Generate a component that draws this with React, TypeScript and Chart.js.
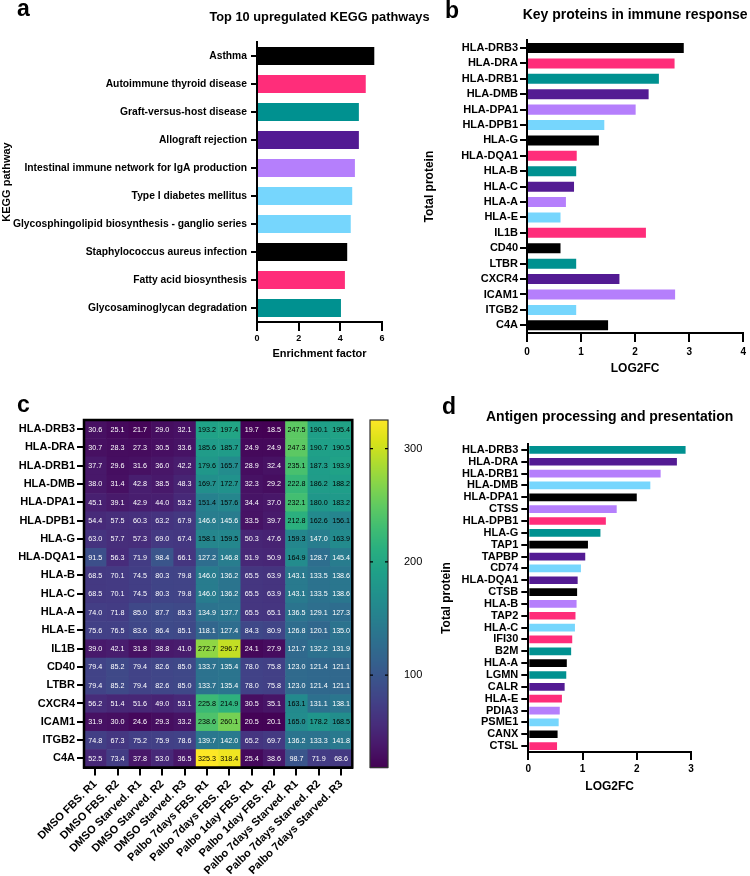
import React, { useEffect, useRef } from 'react';
import { Chart, registerables } from 'chart.js';

Chart.register(...registerables);

const FONT = "'Liberation Sans', Arial, Helvetica, sans-serif";
Chart.defaults.font.family = FONT;
Chart.defaults.color = '#000';

const BLACK = '#000000';
const PINK = '#ff2d7a';
const TEAL = '#009190';
const PURPLE = '#531b93';
const LAVENDER = '#b57ffc';
const SKY = '#76d6fd';

// ---- Panel a ----
const keggPathways = [
  'Asthma',
  'Autoimmune thyroid disease',
  'Graft-versus-host disease',
  'Allograft rejection',
  'Intestinal immune network for IgA production',
  'Type I diabetes mellitus',
  'Glycosphingolipid biosynthesis - ganglio series',
  'Staphylococcus aureus infection',
  'Fatty acid biosynthesis',
  'Glycosaminoglycan degradation',
];
const keggEnrichment = [5.63, 5.22, 4.89, 4.89, 4.7, 4.57, 4.5, 4.33, 4.22, 4.03];
const keggColors = [BLACK, PINK, TEAL, PURPLE, LAVENDER, SKY, SKY, BLACK, PINK, TEAL];

// ---- Panel b ----
const immuneProteins = [
  'HLA-DRB3', 'HLA-DRA', 'HLA-DRB1', 'HLA-DMB', 'HLA-DPA1', 'HLA-DPB1', 'HLA-G', 'HLA-DQA1',
  'HLA-B', 'HLA-C', 'HLA-A', 'HLA-E', 'IL1B', 'CD40', 'LTBR', 'CXCR4', 'ICAM1', 'ITGB2', 'C4A',
];
const immuneLog2fc = [2.9, 2.73, 2.44, 2.25, 2.01, 1.43, 1.33, 0.92, 0.91, 0.87, 0.72, 0.62, 2.2, 0.62, 0.91, 1.71, 2.74, 0.91, 1.5];
const immuneColors = [BLACK, PINK, TEAL, PURPLE, LAVENDER, SKY, BLACK, PINK, TEAL, PURPLE, LAVENDER, SKY, PINK, BLACK, TEAL, PURPLE, LAVENDER, SKY, BLACK];

// ---- Panel c ----
const heatmapRows = immuneProteins;
const heatmapConditions = [
  'DMSO FBS. R1', 'DMSO FBS. R2', 'DMSO Starved. R1', 'DMSO Starved. R2', 'DMSO Starved. R3',
  'Palbo 7days FBS. R1', 'Palbo 7days FBS. R2', 'Palbo 1day FBS. R1', 'Palbo 1day FBS. R2',
  'Palbo 7days Starved. R1', 'Palbo 7days Starved. R2', 'Palbo 7days Starved. R3',
];
const heatmapValues = [
  [30.6, 25.1, 21.7, 29.0, 32.1, 193.2, 197.4, 19.7, 18.5, 247.5, 190.1, 195.4],
  [30.7, 28.3, 27.3, 30.5, 33.6, 185.6, 185.7, 24.9, 24.9, 247.3, 190.7, 190.5],
  [37.7, 29.6, 31.6, 36.0, 42.2, 179.6, 165.7, 28.9, 32.4, 235.1, 187.3, 193.9],
  [38.0, 31.4, 42.8, 38.5, 48.3, 169.7, 172.7, 32.3, 29.2, 222.8, 186.2, 188.2],
  [45.1, 39.1, 42.9, 44.0, 53.2, 151.4, 157.6, 34.4, 37.0, 232.1, 180.0, 183.2],
  [54.4, 57.5, 60.3, 63.2, 67.9, 146.6, 145.6, 33.5, 39.7, 212.8, 162.6, 156.1],
  [63.0, 57.7, 57.3, 69.0, 67.4, 158.1, 159.5, 50.3, 47.6, 159.3, 147.0, 163.9],
  [91.5, 56.3, 71.9, 98.4, 66.1, 127.2, 146.8, 51.9, 50.9, 164.9, 128.7, 145.4],
  [68.5, 70.1, 74.5, 80.3, 79.8, 146.0, 136.2, 65.5, 63.9, 143.1, 133.5, 138.6],
  [68.5, 70.1, 74.5, 80.3, 79.8, 146.0, 136.2, 65.5, 63.9, 143.1, 133.5, 138.6],
  [74.0, 71.8, 85.0, 87.7, 85.3, 134.9, 137.7, 65.5, 65.1, 136.5, 129.1, 127.3],
  [75.6, 76.5, 83.6, 86.4, 85.1, 118.1, 127.4, 84.3, 80.9, 126.8, 120.1, 135.0],
  [39.0, 42.1, 31.8, 38.8, 41.0, 272.7, 296.7, 24.1, 27.9, 121.7, 132.2, 131.9],
  [79.4, 85.2, 79.4, 82.6, 85.0, 133.7, 135.4, 78.0, 75.8, 123.0, 121.4, 121.1],
  [79.4, 85.2, 79.4, 82.6, 85.0, 133.7, 135.4, 78.0, 75.8, 123.0, 121.4, 121.1],
  [56.2, 51.4, 51.6, 49.0, 53.1, 225.8, 214.9, 30.5, 35.1, 163.1, 131.1, 138.1],
  [31.9, 30.0, 24.6, 29.3, 33.2, 238.6, 260.1, 20.5, 20.1, 165.0, 178.2, 168.5],
  [74.8, 67.3, 75.2, 75.9, 78.6, 139.7, 142.0, 65.2, 69.7, 136.2, 133.3, 141.8],
  [52.5, 73.4, 37.8, 53.0, 36.5, 325.3, 318.4, 25.4, 38.6, 98.7, 71.9, 68.6],
];
const colorbarTicks = [100, 200, 300];

// ---- Panel d ----
const antigenProteins = [
  'HLA-DRB3', 'HLA-DRA', 'HLA-DRB1', 'HLA-DMB', 'HLA-DPA1', 'CTSS', 'HLA-DPB1', 'HLA-G', 'TAP1',
  'TAPBP', 'CD74', 'HLA-DQA1', 'CTSB', 'HLA-B', 'TAP2', 'HLA-C', 'IFI30', 'B2M', 'HLA-A', 'LGMN',
  'CALR', 'HLA-E', 'PDIA3', 'PSME1', 'CANX', 'CTSL',
];
const antigenLog2fc = [2.9, 2.74, 2.44, 2.25, 2.0, 1.63, 1.43, 1.33, 1.1, 1.05, 0.97, 0.91, 0.9, 0.89, 0.87, 0.86, 0.81, 0.79, 0.71, 0.7, 0.67, 0.62, 0.58, 0.56, 0.54, 0.53];
const antigenColors = [TEAL, PURPLE, LAVENDER, SKY, BLACK, LAVENDER, PINK, TEAL, BLACK, PURPLE, SKY, PURPLE, BLACK, LAVENDER, PINK, SKY, PINK, TEAL, BLACK, TEAL, PURPLE, PINK, LAVENDER, SKY, BLACK, PINK];

const allHeat = heatmapValues.flat();
const HEAT_MIN = Math.min(...allHeat);
const HEAT_MAX = Math.max(...allHeat);

const VIRIDIS = [
  '#440154', '#48186a', '#472d7b', '#424086', '#3b528b', '#33638d', '#2c728e', '#26828e', '#21918c',
  '#1fa088', '#28ae80', '#3fbc73', '#5ec962', '#84d44b', '#addc30', '#d8e219', '#fde725',
];
function hexToRgb(h: string) {
  return [parseInt(h.slice(1, 3), 16), parseInt(h.slice(3, 5), 16), parseInt(h.slice(5, 7), 16)];
}
const VIRIDIS_RGB = VIRIDIS.map(hexToRgb);
function viridis(t: number) {
  const tt = Math.max(0, Math.min(1, t)) * (VIRIDIS_RGB.length - 1);
  const i = Math.min(Math.floor(tt), VIRIDIS_RGB.length - 2);
  const f = tt - i;
  const a = VIRIDIS_RGB[i];
  const b = VIRIDIS_RGB[i + 1];
  const c = a.map((v, k) => Math.round(v + (b[k] - v) * f));
  return `rgb(${c[0]},${c[1]},${c[2]})`;
}

function axisBase(tickLen: number, pad: number, size: number, weight: any = 'bold') {
  return {
    grid: {
      display: true,
      drawOnChartArea: false,
      drawTicks: true,
      tickLength: tickLen,
      tickWidth: 2,
      tickColor: '#000',
      color: '#000',
      lineWidth: 2,
      offset: false,
    },
    border: { display: true, color: '#000', width: 2 },
    ticks: { color: '#000', padding: pad, font: { family: FONT, size, weight }, autoSkip: false },
  };
}

// Panel title drawn centred over the plot area (not squeezed to its width)
const panelTitlePlugin = {
  id: 'panelTitle',
  afterDraw(chart: any, _args: any, opts: any) {
    if (!opts || !opts.text) return;
    const { ctx, chartArea } = chart;
    ctx.save();
    ctx.font = `bold ${opts.size}px ${FONT}`;
    ctx.fillStyle = '#000';
    ctx.textAlign = 'center';
    ctx.textBaseline = 'middle';
    ctx.fillText(opts.text, (chartArea.left + chartArea.right) / 2, opts.y);
    ctx.restore();
  },
};

function barConfig(p: any) {
  const xb = axisBase(p.xTickLen, p.xPad, p.xTickSize);
  const yb = axisBase(p.yTickLen, p.yPad, p.yTickSize);
  return {
    type: 'bar',
    data: {
      labels: p.labels,
      datasets: [
        {
          data: p.data,
          backgroundColor: p.colors,
          borderWidth: 0,
          barPercentage: 0.65,
          categoryPercentage: 1,
        },
      ],
    },
    options: {
      indexAxis: 'y',
      animation: false,
      responsive: false,
      devicePixelRatio: 1,
      events: [],
      layout: { padding: { left: 0, right: p.padRight, top: p.areaTop, bottom: 0 } },
      plugins: {
        legend: { display: false },
        tooltip: { enabled: false },
        title: { display: false },
        panelTitle: { text: p.title, size: p.titleSize, y: p.titleY },
      },
      scales: {
        x: {
          type: 'linear',
          min: 0,
          max: p.xMax,
          ...xb,
          ticks: { ...xb.ticks, stepSize: p.xStep },
          title: {
            display: true,
            text: p.xTitle,
            color: '#000',
            font: { family: FONT, size: p.xTitleSize, weight: 'bold', lineHeight: 1.2 },
            padding: { top: 0, bottom: p.xTitlePadBottom },
          },
          afterFit: (s: any) => {
            s.height = p.xHeight;
          },
        },
        y: {
          type: 'category',
          ...yb,
          title: {
            display: true,
            text: p.yTitle,
            color: '#000',
            font: { family: FONT, size: p.yTitleSize, weight: 'bold', lineHeight: 1.2 },
            padding: { top: p.yTitlePadTop, bottom: 0 },
          },
          afterFit: (s: any) => {
            s.width = p.yWidth;
          },
        },
      },
    },
    plugins: [panelTitlePlugin],
  };
}

const heatmapPlugin = {
  id: 'heatmapCells',
  beforeDatasetsDraw(chart: any) {
    const { ctx, chartArea } = chart;
    const x = chart.scales.x;
    const y = chart.scales.y;
    const cw = Math.abs(x.getPixelForValue(1) - x.getPixelForValue(0));
    const ch = Math.abs(y.getPixelForValue(1) - y.getPixelForValue(0));
    ctx.save();
    heatmapValues.forEach((row, r) => {
      row.forEach((v, c) => {
        const cx = x.getPixelForValue(c);
        const cy = y.getPixelForValue(r);
        ctx.fillStyle = viridis((v - HEAT_MIN) / (HEAT_MAX - HEAT_MIN));
        ctx.fillRect(cx - cw / 2, cy - ch / 2, cw + 0.6, ch + 0.6);
      });
    });
    ctx.font = `7.2px ${FONT}`;
    ctx.textAlign = 'center';
    ctx.textBaseline = 'middle';
    heatmapValues.forEach((row, r) => {
      row.forEach((v, c) => {
        const cx = x.getPixelForValue(c);
        const cy = y.getPixelForValue(r);
        ctx.fillStyle = v > 150 ? '#000' : '#fff';
        ctx.fillText(v.toFixed(1), cx, cy + 0.5);
      });
    });
    ctx.strokeStyle = '#000';
    ctx.lineWidth = 2.5;
    ctx.strokeRect(chartArea.left, chartArea.top, chartArea.right - chartArea.left, chartArea.bottom - chartArea.top);
    ctx.restore();
  },
};

const colorbarPlugin = {
  id: 'colorbar',
  beforeDatasetsDraw(chart: any) {
    const { ctx, chartArea } = chart;
    const y = chart.scales.y;
    ctx.save();
    for (let py = Math.floor(chartArea.top); py < chartArea.bottom; py++) {
      const v = y.getValueForPixel(py + 0.5);
      ctx.fillStyle = viridis((v - HEAT_MIN) / (HEAT_MAX - HEAT_MIN));
      ctx.fillRect(chartArea.left, py, chartArea.right - chartArea.left, 1.2);
    }
    ctx.strokeStyle = '#333';
    ctx.lineWidth = 1.2;
    ctx.strokeRect(chartArea.left, chartArea.top, chartArea.right - chartArea.left, chartArea.bottom - chartArea.top);
    ctx.strokeStyle = '#000';
    ctx.lineWidth = 1.2;
    colorbarTicks.forEach((t) => {
      const py = y.getPixelForValue(t);
      ctx.beginPath();
      ctx.moveTo(chartArea.left, py);
      ctx.lineTo(chartArea.left + 3, py);
      ctx.moveTo(chartArea.right - 3, py);
      ctx.lineTo(chartArea.right, py);
      ctx.stroke();
    });
    ctx.restore();
  },
};

function heatmapConfig() {
  const xb = axisBase(8, 2, 11);
  const yb = axisBase(7, 2, 11);
  return {
    type: 'scatter',
    data: { datasets: [] },
    options: {
      animation: false,
      responsive: false,
      devicePixelRatio: 1,
      events: [],
      layout: { padding: { left: 0, right: 12.7, top: 40, bottom: 0 } },
      plugins: { legend: { display: false }, tooltip: { enabled: false } },
      scales: {
        x: {
          type: 'category',
          labels: heatmapConditions,
          offset: true,
          position: 'bottom',
          ...xb,
          ticks: { ...xb.ticks, maxRotation: 45, minRotation: 45 },
          afterFit: (s: any) => {
            s.height = 108.5;
          },
        },
        y: {
          type: 'category',
          labels: heatmapRows,
          offset: true,
          ...yb,
          afterFit: (s: any) => {
            s.width = 84;
          },
        },
      },
    },
    plugins: [heatmapPlugin],
  };
}

function colorbarConfig() {
  return {
    type: 'scatter',
    data: { datasets: [] },
    options: {
      animation: false,
      responsive: false,
      devicePixelRatio: 1,
      events: [],
      layout: { padding: { left: 10, right: 0, top: 40, bottom: 108.5 } },
      plugins: { legend: { display: false }, tooltip: { enabled: false } },
      scales: {
        x: { display: false },
        y: {
          type: 'linear',
          position: 'right',
          min: HEAT_MIN,
          max: HEAT_MAX,
          afterBuildTicks: (s: any) => {
            s.ticks = colorbarTicks.map((v) => ({ value: v }));
          },
          grid: { display: false },
          border: { display: false },
          ticks: { color: '#000', padding: 8, font: { family: FONT, size: 11 } },
          afterFit: (s: any) => {
            s.width = 47;
          },
        },
      },
    },
    plugins: [colorbarPlugin],
  };
}

function ChartCanvas({ left, top, width, height, make }: any) {
  const ref = useRef<HTMLCanvasElement | null>(null);
  useEffect(() => {
    const chart = new Chart(ref.current as HTMLCanvasElement, make());
    return () => chart.destroy();
  }, []);
  return (
    <canvas
      ref={ref}
      width={width}
      height={height}
      style={{ position: 'absolute', left, top, width, height }}
    />
  );
}

const letterStyle: any = {
  position: 'absolute',
  fontFamily: FONT,
  fontWeight: 'bold',
  fontSize: 23,
  lineHeight: '23px',
  color: '#000',
};

export default function App() {
  return (
    <div style={{ position: 'absolute', left: 0, top: 0, width: 750, height: 876, background: '#fff', overflow: 'hidden' }}>
      <ChartCanvas
        left={0}
        top={0}
        width={440}
        height={380}
        make={() =>
          barConfig({
            labels: keggPathways,
            data: keggEnrichment,
            colors: keggColors,
            title: 'Top 10 upregulated KEGG pathways',
            titleSize: 12.8,
            titleY: 17,
            areaTop: 42,
            padRight: 58,
            xMax: 6,
            xStep: 2,
            xTickLen: 9,
            xPad: 2,
            xTickSize: 9,
            xTitle: 'Enrichment factor',
            xTitleSize: 11,
            xTitlePadBottom: 19.1,
            xHeight: 58,
            yTickLen: 6,
            yPad: 4,
            yTickSize: 10.3,
            yTitle: 'KEGG pathway',
            yTitleSize: 11,
            yTitlePadTop: 0.4,
            yWidth: 257,
          })
        }
      />
      <ChartCanvas
        left={390}
        top={0}
        width={360}
        height={380}
        make={() =>
          barConfig({
            labels: immuneProteins,
            data: immuneLog2fc,
            colors: immuneColors,
            title: 'Key proteins in immune response',
            titleSize: 14,
            titleY: 15,
            areaTop: 40.3,
            padRight: 3.3,
            xMax: 4,
            xStep: 1,
            xTickLen: 9,
            xPad: 4,
            xTickSize: 10,
            xTitle: 'LOG2FC',
            xTitleSize: 12,
            xTitlePadBottom: 3.8,
            xHeight: 47,
            yTickLen: 7,
            yPad: 2,
            yTickSize: 11,
            yTitle: 'Total protein',
            yTitleSize: 12,
            yTitlePadTop: 32.8,
            yWidth: 137,
          })
        }
      />
      <ChartCanvas left={0} top={380} width={365} height={496} make={heatmapConfig} />
      <ChartCanvas left={360} top={380} width={75} height={496} make={colorbarConfig} />
      <ChartCanvas
        left={436}
        top={380}
        width={314}
        height={416}
        make={() =>
          barConfig({
            labels: antigenProteins,
            data: antigenLog2fc,
            colors: antigenColors,
            title: 'Antigen processing and presentation',
            titleSize: 14,
            titleY: 37,
            areaTop: 64,
            padRight: 59,
            xMax: 3,
            xStep: 1,
            xTickLen: 8,
            xPad: 3.5,
            xTickSize: 10,
            xTitle: 'LOG2FC',
            xTitleSize: 12,
            xTitlePadBottom: 1.8,
            xHeight: 44,
            yTickLen: 7,
            yPad: 3,
            yTickSize: 11,
            yTitle: 'Total protein',
            yTitleSize: 12,
            yTitlePadTop: 3.5,
            yWidth: 92.3,
          })
        }
      />
      <div style={{ ...letterStyle, left: 17, top: -3 }}>a</div>
      <div style={{ ...letterStyle, left: 445, top: -1 }}>b</div>
      <div style={{ ...letterStyle, left: 17, top: 393 }}>c</div>
      <div style={{ ...letterStyle, left: 442, top: 395 }}>d</div>
    </div>
  );
}
